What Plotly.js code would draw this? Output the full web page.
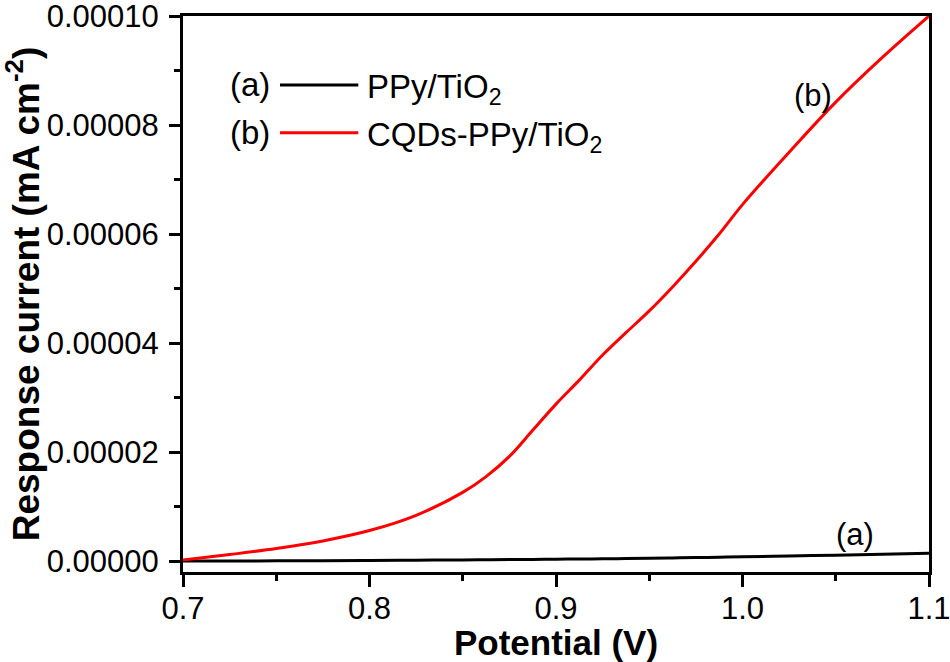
<!DOCTYPE html>
<html>
<head>
<meta charset="utf-8">
<script src="https://cdn.plot.ly/plotly-3.0.1.min.js"></script>
<style>html,body{margin:0;padding:0;background:#fff;}#chart{width:950px;height:662px;}</style>
</head>
<body>
<div id="chart"></div>
<script>
// Potential (V)
const potential = [0.700, 0.725, 0.750, 0.775, 0.800, 0.825, 0.850, 0.8625, 0.875, 0.8875, 0.900, 0.9125, 0.925, 0.9375, 0.950, 0.9625, 0.975, 0.9875, 1.000, 1.025, 1.050, 1.075, 1.100];
// (a) PPy/TiO2 response current (mA cm^-2)
const ppyTiO2 = [0.0e-6, 0.02e-6, 0.05e-6, 0.08e-6, 0.12e-6, 0.17e-6, 0.22e-6, 0.25e-6, 0.28e-6, 0.31e-6, 0.35e-6, 0.38e-6, 0.42e-6, 0.47e-6, 0.52e-6, 0.58e-6, 0.64e-6, 0.71e-6, 0.78e-6, 0.93e-6, 1.08e-6, 1.25e-6, 1.45e-6];
// (b) CQDs-PPy/TiO2 response current (mA cm^-2)
const cqdsPpyTiO2 = [0.2e-6, 1.2e-6, 2.3e-6, 3.7e-6, 5.6e-6, 8.4e-6, 12.6e-6, 15.5e-6, 19.2e-6, 24.0e-6, 28.8e-6, 33.2e-6, 37.8e-6, 41.9e-6, 45.9e-6, 50.3e-6, 55.0e-6, 60.0e-6, 65.4e-6, 75.0e-6, 84.2e-6, 92.4e-6, 100e-6];
const seriesNames = ['PPy/TiO<sub>2</sub>', 'CQDs-PPy/TiO<sub>2</sub>'];
const seriesTags = ['(a)', '(b)'];
const xTicks = [0.7, 0.8, 0.9, 1.0, 1.1];
const xTickText = ['0.7', '0.8', '0.9', '1.0', '1.1'];
const yTicks = [0, 0.00002, 0.00004, 0.00006, 0.00008, 0.00010];
const yTickText = ['0.00000', '0.00002', '0.00004', '0.00006', '0.00008', '0.00010'];

const FONT = 'Liberation Sans, Arial, sans-serif';

const traces = [
  {x: potential, y: ppyTiO2, mode: 'lines', name: seriesNames[0],
   line: {color: '#000000', width: 3, shape: 'spline', smoothing: 1}, showlegend: false},
  {x: potential, y: cqdsPpyTiO2, mode: 'lines', name: seriesNames[1],
   line: {color: '#ff0000', width: 3, shape: 'spline', smoothing: 1}, showlegend: false}
];

const legendRows = [{y: 0.876, color: '#000000'}, {y: 0.790, color: '#ff0000'}];
const shapes = legendRows.map(r => ({
  type: 'line', xref: 'paper', yref: 'paper',
  x0: 0.130, x1: 0.235, y0: r.y, y1: r.y,
  line: {color: r.color, width: 3}
}));
const annotations = [];
legendRows.forEach((r, i) => {
  annotations.push({xref: 'paper', yref: 'paper', x: 0.119, y: r.y, xanchor: 'right', yanchor: 'middle',
    text: seriesTags[i], showarrow: false, font: {family: FONT, size: 33, color: '#000'}});
  annotations.push({xref: 'paper', yref: 'paper', x: 0.244, y: r.y - 0.008, xanchor: 'left', yanchor: 'middle',
    text: seriesNames[i], showarrow: false, font: {family: FONT, size: 33, color: '#000'}});
});
annotations.push({xref: 'x', yref: 'y', x: 1.0378, y: 0.0000854, text: '(b)', showarrow: false,
  font: {family: FONT, size: 31, color: '#000'}});
annotations.push({xref: 'x', yref: 'y', x: 1.0603, y: 0.0000048, text: '(a)', showarrow: false,
  font: {family: FONT, size: 31, color: '#000'}});

const layout = {
  width: 950, height: 662,
  margin: {l: 183, r: 21, t: 16, b: 90},
  paper_bgcolor: '#fff', plot_bgcolor: '#fff',
  font: {family: FONT, size: 31, color: '#000'},
  xaxis: {
    range: [0.7, 1.1], tickvals: xTicks, ticktext: xTickText,
    ticks: 'outside', ticklen: 12, tickwidth: 3, tickcolor: '#000',
    minor: {dtick: 0.05, tick0: 0.7, ticks: 'outside', ticklen: 6, tickwidth: 3, tickcolor: '#000', showgrid: false},
    showline: true, linewidth: 3, linecolor: '#000', mirror: true,
    showgrid: false, zeroline: false, ticklabeloverflow: 'allow', ticklabelstandoff: -5,
    tickfont: {family: FONT, size: 31, color: '#000'},
    title: {text: '<b>Potential (V)</b>', font: {family: FONT, size: 35, color: '#000'}, standoff: 2}
  },
  yaxis: {
    range: [-0.000002, 0.0001], tickvals: yTicks, ticktext: yTickText,
    ticks: 'outside', ticklen: 11, tickwidth: 3, tickcolor: '#000',
    minor: {dtick: 0.00001, tick0: 0, ticks: 'outside', ticklen: 6, tickwidth: 3, tickcolor: '#000', showgrid: false},
    showline: true, linewidth: 3, linecolor: '#000', mirror: true,
    showgrid: false, zeroline: false, ticklabelstandoff: 4, ticklabeloverflow: 'allow',
    tickfont: {family: FONT, size: 31, color: '#000'},
    title: {text: '<b>Response current (mA cm<sup>-2</sup>)</b>', font: {family: FONT, size: 37, color: '#000'}, standoff: 0}
  },
  shapes: shapes,
  annotations: annotations
};

Plotly.newPlot('chart', traces, layout, {displayModeBar: false, staticPlot: true});
</script>
</body>
</html>
